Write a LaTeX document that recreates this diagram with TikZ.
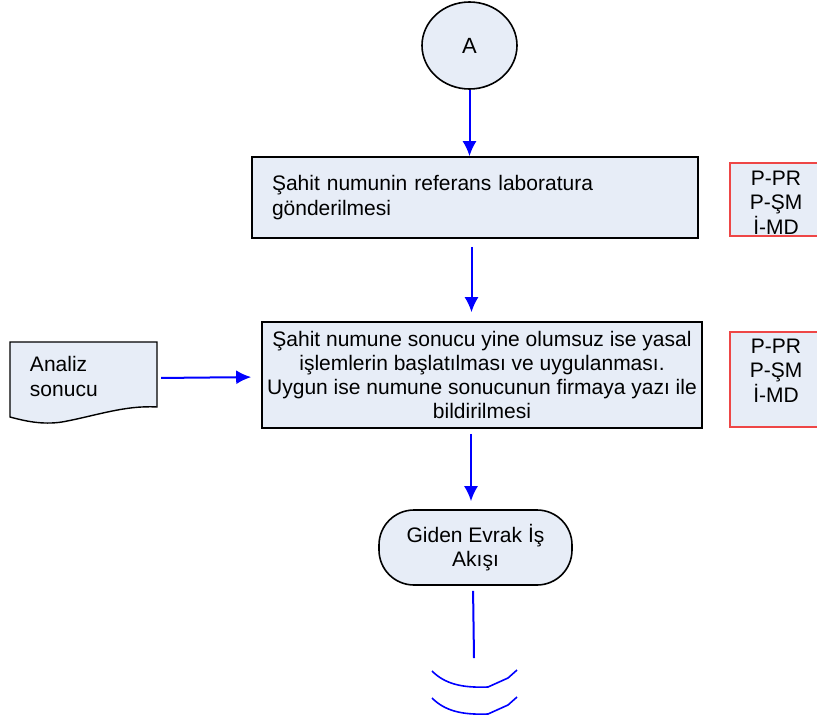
\documentclass[tikz,border=0pt]{standalone}
\usepackage{fontspec}
\setmainfont{Liberation Sans}
\usetikzlibrary{arrows.meta,shapes.geometric}

\definecolor{acik}{RGB}{231,237,247}
\definecolor{kirmizi}{RGB}{238,70,70}
\definecolor{mavi}{RGB}{0,0,255}

\begin{document}
\begin{tikzpicture}[x=1pt,y=-1pt,>={Latex[length=15pt,width=14pt]},
	akis/.style={draw=mavi,line width=2pt},
	kutu/.style={draw,line width=1.6pt,fill=acik,inner sep=0pt},
	kod/.style={draw=kirmizi,line width=1.4pt,fill=acik},
	yazi/.style={font=\fontsize{21}{24.3}\selectfont}]

\useasboundingbox (0,0) rectangle (817,721);

\node[kutu,ellipse,minimum width=95pt,minimum height=87pt,font=\fontsize{22}{26}\selectfont] (A) at (469.5,45.5) {A};

\node[kutu,yazi,minimum width=446pt,minimum height=81pt,text width=406pt,align=left] (referans) at (475,197.5)
	{Şahit numunin referans laboratura\\gönderilmesi};

\node[kutu,yazi,minimum width=440pt,minimum height=106pt,align=center] (sonuc) at (482,375)
	{Şahit numune sonucu yine olumsuz ise yasal\\işlemlerin başlatılması ve uygulanması.\\Uygun ise numune sonucunun firmaya yazı ile\\bildirilmesi};

\node[kod,minimum width=92pt,minimum height=73pt] (kod1) at (776,199.5) {};
\node[yazi,align=center,inner sep=0pt] (kod1yazi) at (776,202.5) {P-PR\\P-ŞM\\İ-MD};
\node[kod,minimum width=92pt,minimum height=95pt] (kod2) at (776,379.5) {};
\node[yazi,align=center,inner sep=0pt] (kod2yazi) at (776,370.5) {P-PR\\P-ŞM\\İ-MD};

\filldraw[line width=1.4pt,fill=acik] (10,342) -- (157,342) -- (157,407)
	.. controls (125,405) and (95,416) .. (62,422)
	.. controls (42,425) and (25,421) .. (10,417) -- cycle;
\node[yazi,text width=107pt,inner xsep=20pt,inner ysep=0pt,minimum height=65pt,align=left] (analiz) at (83.5,376.5)
	{Analiz\\sonucu};

\node[kutu,yazi,rounded corners=35pt,minimum width=193pt,minimum height=75pt,align=center] (giden) at (475.5,547.5)
	{Giden Evrak İş\\Akışı};

\draw[akis,->] (A.south) -- (A.south |- referans.north);
\draw[akis,->,shorten <=8pt,shorten >=9pt] ([xshift=-3.5pt]referans.south) -- ([xshift=-10.5pt]sonuc.north);
\draw[akis,->,shorten <=4pt,shorten >=10pt] ([yshift=-1.5pt]analiz.east) -- ([yshift=-0.5pt]analiz.east -| sonuc.west);
\draw[akis,->,shorten <=5pt,shorten >=8pt] ([xshift=-11pt]sonuc.south) -- ([xshift=-4.5pt]giden.north);

\coordinate (uc) at (474,658);
\draw[akis,shorten <=5pt] ([xshift=-2.5pt]giden.south) -- (uc);

\foreach \d in {0,27}{
	\draw[mavi,line width=1.6pt] (432,{671+\d}) .. controls (445,{684+\d}) and (462,{688+\d}) .. (488,{687+\d})
		-- (508,{678+\d}) -- (517,{670+\d});
}

\end{tikzpicture}
\end{document}
